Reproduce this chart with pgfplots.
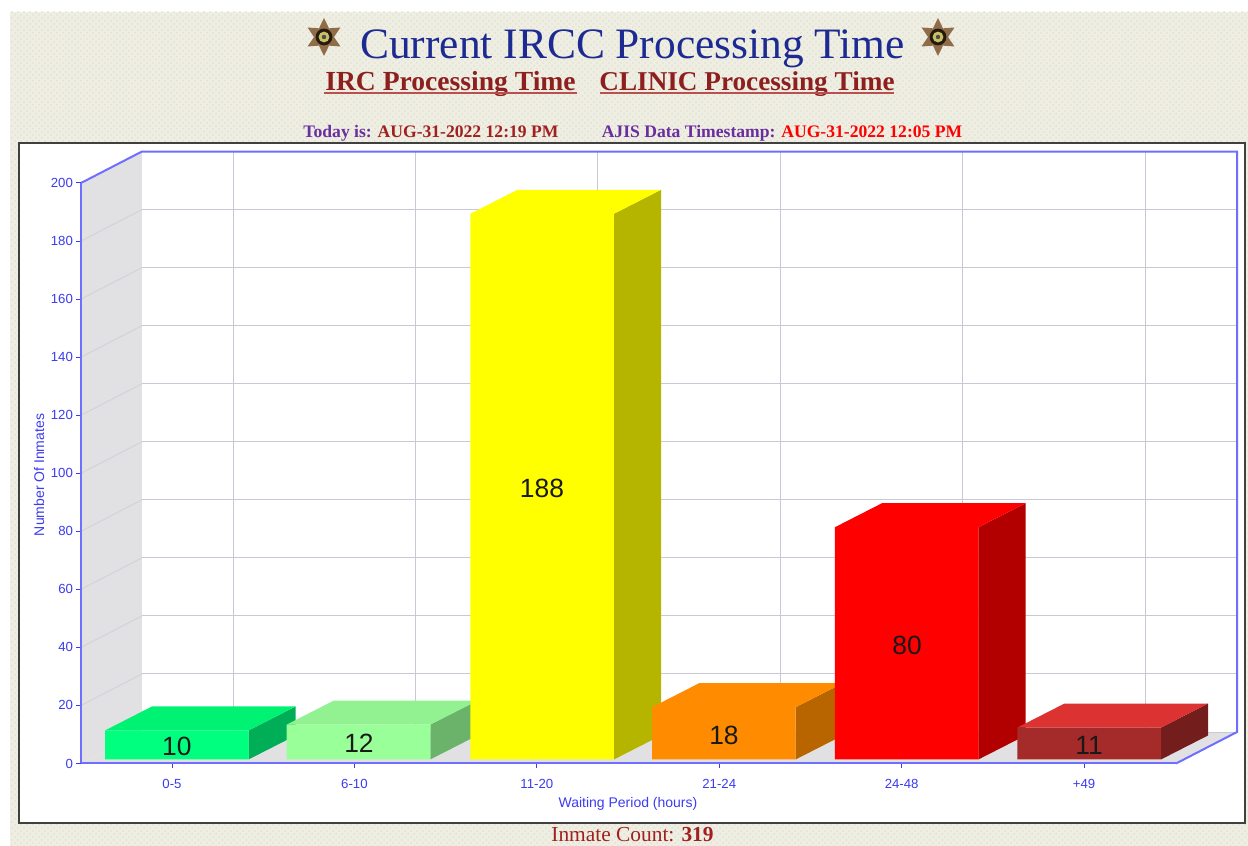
\documentclass[border=0pt]{standalone}
\usepackage{pgfplots}
\pgfplotsset{compat=1.18}
\usepackage{fontspec}
\usetikzlibrary{shapes.geometric,patterns}
\setmainfont{Liberation Serif}
\newfontfamily\arial{Liberation Sans}
\definecolor{bg}{HTML}{EFEEE3}
\definecolor{bgdot}{HTML}{E2E1D2}
\definecolor{axblue}{HTML}{6E6EFF}
\definecolor{lblblue}{HTML}{3C3CF0}
\definecolor{gridc}{HTML}{C9C9D6}
\definecolor{wall}{HTML}{E1E1E4}
\definecolor{wallline}{HTML}{D2D2D8}
\definecolor{navy}{HTML}{1C2A92}
\definecolor{linkred}{HTML}{8E1F1F}
\definecolor{linkline}{HTML}{B85050}
\definecolor{purp}{HTML}{6A2E9E}
\definecolor{dred}{HTML}{A02020}
\definecolor{gF}{HTML}{00FF7F}\definecolor{gS}{HTML}{00AE58}\definecolor{gT}{HTML}{00F272}
\definecolor{pF}{HTML}{99FF99}\definecolor{pS}{HTML}{6BB26B}\definecolor{pT}{HTML}{92F292}
\definecolor{yF}{HTML}{FFFF00}\definecolor{yS}{HTML}{B5B500}\definecolor{yT}{HTML}{FFFF00}
\definecolor{oF}{HTML}{FF8C00}\definecolor{oS}{HTML}{B86500}\definecolor{oT}{HTML}{FF8C00}
\definecolor{rF}{HTML}{FF0000}\definecolor{rS}{HTML}{B20000}\definecolor{rT}{HTML}{FF0000}
\definecolor{bF}{HTML}{A52A2A}\definecolor{bS}{HTML}{731D1D}\definecolor{bT}{HTML}{DC3232}
\newcommand{\badge}[2]{%
  \node[star, star points=6, star point ratio=1.9, minimum size=19pt, inner sep=0pt, fill=brown!65!black!85!white, draw=none] at (#1,#2) {};
  \fill[black!80!brown] (#1,#2) circle (4.2pt);
  \fill[yellow!50!gray] (#1,#2) circle (2.7pt);
  \fill[black!70] (#1,#2) circle (1.1pt);
}
\newcommand{\face}[2]{\addplot[fill=#1,draw=none,mark=none] coordinates {#2};}
\begin{document}
\begin{tikzpicture}[x=0.5pt,y=0.5pt]
\path[use as bounding box] (0,0) rectangle (1248,846);
\fill[white] (0,0) rectangle (1248,846);
\fill[bg] (10,0) rectangle (1248,834);
\fill[pattern=crosshatch dots,pattern color=bgdot] (10,0) rectangle (1248,834);
\fill[white] (19,23) rectangle (1245,703);
\draw[black!75,line width=1pt] (19,23) rectangle (1245,703);
\badge{324}{809}
\badge{938}{809}
\node[navy,font=\fontsize{21.7}{24}\selectfont,anchor=center] at (632.5,797) {Current IRCC Processing Time};
\node[linkred,font=\fontsize{13.8}{15}\selectfont\bfseries,anchor=center] at (450.5,762) {IRC Processing Time};
\node[linkred,font=\fontsize{13.6}{15}\selectfont\bfseries,anchor=center] at (747,762) {CLINIC Processing Time};
\draw[linkline,line width=1pt] (324,752.5) -- (577,752.5);
\draw[linkline,line width=1pt] (600,752.5) -- (894,752.5);
\node[font=\fontsize{8.8}{10}\selectfont\bfseries,anchor=center] at (431,713) {\textcolor{purp}{Today is:} \textcolor{dred}{AUG-31-2022 12:19 PM}};
\node[font=\fontsize{8.8}{10}\selectfont\bfseries,anchor=center] at (782,713) {\textcolor{purp}{AJIS Data Timestamp:} \textcolor{red}{AUG-31-2022 12:05 PM}};
\node[font=\fontsize{10.7}{12}\selectfont,anchor=center,dred] at (632.5,11) {Inmate Count: \textbf{319}};
\begin{axis}[
  at={(40.5pt,41.25pt)}, anchor=south west,
  scale only axis, width=547.5pt, height=290.25pt,
  xmin=-0.4989, xmax=5.504, ymin=0, ymax=200,
  clip=false, axis on top,
  axis x line=bottom, axis y line=left,
  axis line style={axblue,line width=1pt,-},
  xtick={0,1,2,3,4,5},
  xticklabels={0-5,6-10,11-20,21-24,24-48,+49},
  ytick={0,20,...,200},
  tick style={lblblue,line width=0.5pt},
  major tick length=2.5pt,
  tick align=outside,
  /pgf/number format/assume math mode=true,
  ticklabel style={font=\arial\fontsize{6.6}{8}\selectfont,text=lblblue},
  xticklabel style={yshift=-2pt},
  yticklabel style={xshift=2pt},
  xlabel={Waiting Period (hours)}, ylabel={Number Of Inmates},
  label style={font=\arial\fontsize{7}{8}\selectfont,text=lblblue},
  xlabel style={at={(axis description cs:0.4995,-0.0698)},anchor=center},
  ylabel style={at={(axis description cs:-0.03836,0.497)},anchor=center},
]
% side wall and floor
\face{wall}{(-0.4989,0)(-0.1645,10.85)(-0.1645,210.85)(-0.4989,200)(-0.4989,0)}
\face{wall}{(-0.4989,0)(5.504,0)(5.8384,10.85)(-0.1645,10.85)(-0.4989,0)}
% back wall grid
\pgfplotsinvokeforeach{30.85,50.85,70.85,90.85,110.85,130.85,150.85,170.85,190.85}{
  \addplot[draw=gridc,line width=0.5pt,mark=none] coordinates {(-0.1645,#1)(5.8384,#1)};
}
\pgfplotsinvokeforeach{0.3344,1.3344,2.3344,3.3344,4.3344,5.3344}{
  \addplot[draw=gridc,line width=0.5pt,mark=none] coordinates {(#1,10.85)(#1,210.85)};
}
\addplot[draw=gridc,line width=0.5pt,mark=none] coordinates {(-0.1645,10.85)(5.8384,10.85)};
% side-wall lines
\addplot[draw=wallline,line width=0.5pt,mark=none] coordinates {(-0.4989,20)(-0.1645,30.85)};
\addplot[draw=wallline,line width=0.5pt,mark=none] coordinates {(-0.4989,40)(-0.1645,50.85)};
\addplot[draw=wallline,line width=0.5pt,mark=none] coordinates {(-0.4989,60)(-0.1645,70.85)};
\addplot[draw=wallline,line width=0.5pt,mark=none] coordinates {(-0.4989,80)(-0.1645,90.85)};
\addplot[draw=wallline,line width=0.5pt,mark=none] coordinates {(-0.4989,100)(-0.1645,110.85)};
\addplot[draw=wallline,line width=0.5pt,mark=none] coordinates {(-0.4989,120)(-0.1645,130.85)};
\addplot[draw=wallline,line width=0.5pt,mark=none] coordinates {(-0.4989,140)(-0.1645,150.85)};
\addplot[draw=wallline,line width=0.5pt,mark=none] coordinates {(-0.4989,160)(-0.1645,170.85)};
\addplot[draw=wallline,line width=0.5pt,mark=none] coordinates {(-0.4989,180)(-0.1645,190.85)};
% blue frame
\addplot[draw=axblue,line width=1pt,mark=none] coordinates {(-0.4989,200)(-0.1645,210.85)(5.8384,210.85)(5.8384,10.85)(5.504,0)};
% bars: height = value + 1.4 (base of the bars); depth 0.258 x, 8.27 y
% 0-5: 10
\face{gS}{(0.42,1.4)(0.678,9.67)(0.678,19.67)(0.42,11.4)(0.42,1.4)}
\face{gT}{(-0.367,11.4)(0.42,11.4)(0.678,19.67)(-0.109,19.67)(-0.367,11.4)}
\face{gF}{(-0.367,1.4)(0.42,1.4)(0.42,11.4)(-0.367,11.4)(-0.367,1.4)}
% 6-10: 12
\face{pS}{(1.416,1.4)(1.674,9.67)(1.674,21.67)(1.416,13.4)(1.416,1.4)}
\face{pT}{(0.629,13.4)(1.416,13.4)(1.674,21.67)(0.887,21.67)(0.629,13.4)}
\face{pF}{(0.629,1.4)(1.416,1.4)(1.416,13.4)(0.629,13.4)(0.629,1.4)}
% 11-20: 188
\face{yS}{(2.423,1.4)(2.681,9.67)(2.681,197.67)(2.423,189.4)(2.423,1.4)}
\face{yT}{(1.636,189.4)(2.423,189.4)(2.681,197.67)(1.894,197.67)(1.636,189.4)}
\face{yF}{(1.636,1.4)(2.423,1.4)(2.423,189.4)(1.636,189.4)(1.636,1.4)}
% 21-24: 18
\face{oS}{(3.419,1.4)(3.677,9.67)(3.677,27.67)(3.419,19.4)(3.419,1.4)}
\face{oT}{(2.632,19.4)(3.419,19.4)(3.677,27.67)(2.89,27.67)(2.632,19.4)}
\face{oF}{(2.632,1.4)(3.419,1.4)(3.419,19.4)(2.632,19.4)(2.632,1.4)}
% 24-48: 80
\face{rS}{(4.421,1.4)(4.679,9.67)(4.679,89.67)(4.421,81.4)(4.421,1.4)}
\face{rT}{(3.634,81.4)(4.421,81.4)(4.679,89.67)(3.892,89.67)(3.634,81.4)}
\face{rF}{(3.634,1.4)(4.421,1.4)(4.421,81.4)(3.634,81.4)(3.634,1.4)}
% +49: 11
\face{bS}{(5.422,1.4)(5.68,9.67)(5.68,20.67)(5.422,12.4)(5.422,1.4)}
\face{bT}{(4.635,12.4)(5.422,12.4)(5.68,20.67)(4.893,20.67)(4.635,12.4)}
\face{bF}{(4.635,1.4)(5.422,1.4)(5.422,12.4)(4.635,12.4)(4.635,1.4)}
% value labels
\node[font=\arial\fontsize{13.2}{15}\selectfont,text=black!90] at (axis cs:0.027,6.03) {10};
\node[font=\arial\fontsize{13.2}{15}\selectfont,text=black!90] at (axis cs:1.025,7.06) {12};
\node[font=\arial\fontsize{13.2}{15}\selectfont,text=black!90] at (axis cs:2.028,94.9) {188};
\node[font=\arial\fontsize{13.2}{15}\selectfont,text=black!90] at (axis cs:3.026,9.82) {18};
\node[font=\arial\fontsize{13.2}{15}\selectfont,text=black!90] at (axis cs:4.03,40.8) {80};
\node[font=\arial\fontsize{13.2}{15}\selectfont,text=black!90] at (axis cs:5.027,6.37) {11};
\end{axis}
\end{tikzpicture}
\end{document}
